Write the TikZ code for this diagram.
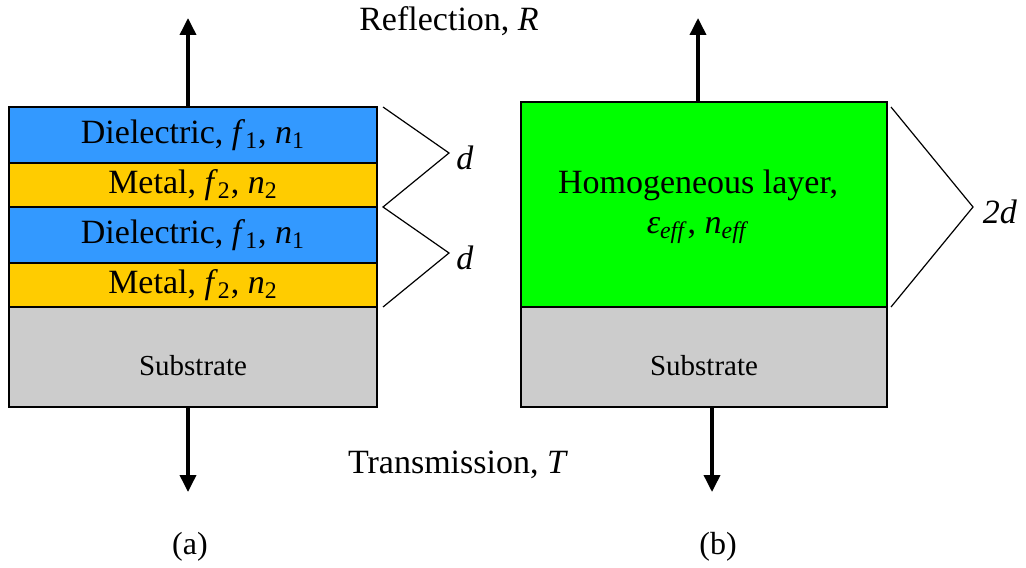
\documentclass[tikz,border=0pt]{standalone}
\usepackage{fontspec}
\setmainfont{Liberation Serif}
\usetikzlibrary{arrows.meta}

\definecolor{dielblue}{RGB}{51,153,255}
\definecolor{metalgold}{RGB}{255,204,0}
\definecolor{homgreen}{RGB}{0,255,0}
\definecolor{subgray}{RGB}{204,204,204}

\newcommand{\fsub}[2]{\textit{#1}\textsubscript{#2}}

\begin{document}
\begin{tikzpicture}[
    x=0.5pt, y=-0.5pt,
    font=\fontsize{17}{19}\selectfont,
    slab/.style={draw=black, line width=0.9pt, inner sep=0pt, outer sep=0pt},
    ray/.style={line width=1.8pt, -{Triangle[length=8.5pt, width=8pt]}},
    zig/.style={line width=0.6pt, line join=miter}
]

%% 1 jednotka = 1 px referencie (0.5pt), y ide nadol
\def\px{0.5pt}
\def\slabw{368}   % šírka ľavého stĺpca

\useasboundingbox (0,0) rectangle (1026,567);

%% (a) Vrstvy: meno / stred y / výška / farba / text
\foreach \nm/\yc/\h/\col/\txt in {
    d1/135/56/dielblue/{Dielectric, \fsub{f}{1}, \fsub{n}{1}},
    m1/185/44/metalgold/{Metal, \fsub{f}{2}, \fsub{n}{2}},
    d2/235/56/dielblue/{Dielectric, \fsub{f}{1}, \fsub{n}{1}},
    m2/285/44/metalgold/{Metal, \fsub{f}{2}, \fsub{n}{2}}
} {
    \node[slab, fill=\col, minimum width=\slabw*\px, minimum height=\h*\px]
        (\nm) at (193,\yc) {\txt};
}

%% Substrát (a)
\node[slab, fill=subgray, minimum width=\slabw*\px, minimum height=100*\px]
    (subA) at (193,357) {};
\node[font=\fontsize{14.5}{17}\selectfont] (subAtxt) at (193,366) {Substrate};

%% (b) Homogénna vrstva + substrát
\node[slab, fill=homgreen, minimum width=366*\px, minimum height=205*\px]
    (hom) at (704,204.5) {};
\node[align=center] (homtxt) at (698,207)
    {Homogeneous layer,\\[1pt] \textit{ε}\textsubscript{\textit{eff}}, \textit{n}\textsubscript{\textit{eff}}};
\node[slab, fill=subgray, minimum width=366*\px, minimum height=100*\px]
    (subB) at (704,357) {};
\node[font=\fontsize{14.5}{17}\selectfont] (subBtxt) at (704,366) {Substrate};

%% Odraz a prechod
\coordinate (reflA) at (188,18);
\coordinate (reflB) at (698,18);
\coordinate (tranA) at (188,492);
\coordinate (tranB) at (712,492);
\draw[ray] (d1.north -| reflA) -- (reflA);
\draw[ray] (hom.north -| reflB) -- (reflB);
\draw[ray] (subA.south -| tranA) -- (tranA);
\draw[ray] (subB.south -| tranB) -- (tranB);

\node (refl) at (449,21) {Reflection, \textit{R}};
\node (tran) at (458,465) {Transmission, \textit{T}};

%% Zátvorky hrúbky periódy
\coordinate (tipA1) at (449,153);
\coordinate (tipA2) at (449,253);
\coordinate (tipB) at (973,207);
\draw[zig] ([xshift=3pt]d1.north east) -- (tipA1) -- ([xshift=3pt]m1.south east)
    -- (tipA2) -- ([xshift=3pt]m2.south east);
\draw[zig] ([xshift=2pt, yshift=-2.5pt]hom.north east) -- (tipB)
    -- ([xshift=2pt]hom.south east);

\node (dA1) at (465,158) {\textit{d}};
\node (dA2) at (465,258) {\textit{d}};
\node (dB) at (1000,212) {\textit{2d}};

%% Popisy častí
\node[font=\fontsize{16}{18}\selectfont] (capA) at (190,547) {(a)};
\node[font=\fontsize{16}{18}\selectfont] (capB) at (718,547) {(b)};

\end{tikzpicture}
\end{document}
